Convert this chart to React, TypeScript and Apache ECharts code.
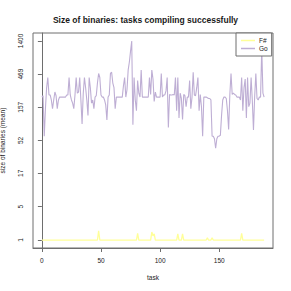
import React, { useEffect, useRef } from "react";
import * as echarts from "echarts";

const chartTitle = "Size of binaries: tasks compiling successfully";
const xName = "task";
const yName = "size of binaries (mean)";
const xTickValues = [0, 50, 100, 150];
const yTickLabels = [1, 5, 17, 52, 157, 469, 1400];
const seriesNames = ["F#", "Go"];
const seriesColors = ["#FFFF99", "#BEAED4"];

// mean binary size per task, F#
const fsharp = [
  1, 1, 1, 1, 1, 1, 1, 1, 1, 1, 1, 1, 1, 1, 1, 1, 1, 1, 1, 1,
  1, 1, 1, 1, 1, 1, 1, 1, 1, 1, 1, 1, 1, 1, 1, 1, 1, 1, 1, 1,
  1, 1, 1, 1, 1, 1, 1, 1, 1.7, 1, 1, 1, 1, 1, 1, 1, 1, 1, 1, 1,
  1, 1, 1, 1, 1, 1, 1, 1, 1, 1, 1, 1, 1, 1, 1, 1, 1, 1, 1, 1,
  1, 1.5, 1, 1, 1, 1, 1, 1, 1, 1, 1, 1, 1, 1.6, 1.3, 1.45, 1, 1, 1, 1,
  1, 1, 1, 1, 1, 1, 1, 1, 1, 1, 1, 1, 1, 1, 1, 1.45, 1, 1, 1, 1.45,
  1, 1, 1, 1, 1, 1, 1, 1, 1, 1, 1, 1, 1, 1, 1, 1, 1, 1, 1, 1,
  1.15, 1, 1, 1, 1.15, 1, 1, 1, 1, 1, 1, 1, 1, 1, 1, 1, 1, 1, 1, 1,
  1, 1, 1, 1, 1, 1, 1, 1, 1, 1.5, 1, 1, 1, 1, 1, 1, 1, 1, 1, 1,
  1, 1, 1, 1, 1, 1, 1, 1, 1,
];

// mean binary size per task, Go
const go = [
  220, 230, 60, 150, 300, 420, 236, 236, 200, 150, 200, 260, 230, 150, 200, 220, 220, 220, 220, 220,
  220, 236, 236, 420, 236, 200, 180, 150, 236, 420, 250, 260, 420, 200, 90, 250, 420, 300, 200, 120,
  420, 300, 180, 200, 150, 220, 230, 350, 480, 420, 236, 220, 220, 200, 170, 103, 220, 236, 480, 500,
  350, 300, 150, 220, 220, 220, 220, 220, 220, 320, 420, 220, 280, 540, 700, 1000, 1400, 88, 420, 200,
  140, 380, 250, 220, 538, 220, 220, 220, 220, 220, 220, 420, 240, 538, 400, 190, 260, 220, 220, 220,
  220, 480, 220, 236, 236, 270, 420, 80, 240, 236, 236, 240, 236, 420, 140, 420, 110, 250, 210, 105,
  240, 230, 160, 220, 220, 380, 150, 220, 500, 236, 230, 300, 420, 140, 240, 160, 60, 220, 220, 220,
  215, 210, 210, 200, 60, 60, 55, 40, 55, 60, 60, 62, 120, 200, 220, 220, 210, 140, 75, 240,
  480, 240, 250, 240, 236, 220, 220, 220, 200, 420, 140, 300, 400, 110, 420, 160, 180, 420, 200, 74,
  220, 480, 210, 200, 220, 220, 1100, 250, 220,
];

const FONT = "'Liberation Sans', Arial, Helvetica, sans-serif";

export default function App() {
  const ref = useRef<HTMLDivElement>(null);

  useEffect(() => {
    const chart = echarts.init(ref.current as HTMLDivElement, null, { renderer: "svg" });
    const tf = (v: number) => Math.log(v + 1);
    const allT = [...fsharp, ...go].map(tf);
    const lo = Math.min(...allT);
    const hi = Math.max(...allT);
    const ypad = 0.04 * (hi - lo);
    const n = go.length;
    const xlo = 0;
    const xhi = n - 1;
    const xpad = 0.04 * (xhi - xlo);
    const yTickValues = yTickLabels.map(tf);

    const mk = (arr: number[]) => arr.map((v, i) => [i, tf(v)]);

    chart.setOption({
      animation: false,
      backgroundColor: "#ffffff",
      title: {
        text: chartTitle,
        left: "center",
        top: 10,
        textStyle: { fontFamily: FONT, fontSize: 8.5, fontWeight: "bold", color: "#1a1a1a" },
      },
      grid: {
        left: 33,
        top: 33,
        width: 240,
        height: 215,
        containLabel: false,
        outerBoundsMode: "none",
        show: true,
        borderColor: "#6e6e6e",
        borderWidth: 1,
        backgroundColor: "transparent",
      },
      legend: {
        data: seriesNames,
        orient: "vertical",
        left: 236,
        top: 33,
        padding: [4, 4, 4, 5],
        itemGap: 1,
        itemWidth: 14,
        itemHeight: 1.5,
        icon: "rect",
        backgroundColor: "#ffffff",
        borderColor: "#6e6e6e",
        borderWidth: 1,
        borderRadius: 0,
        textStyle: { fontFamily: FONT, fontSize: 6.5, color: "#222", padding: [0, 0, 0, -1] },
      },
      xAxis: {
        type: "value",
        min: xlo - xpad,
        max: xhi + xpad,
        name: xName,
        nameLocation: "middle",
        nameGap: 26,
        nameTextStyle: { fontFamily: FONT, fontSize: 6.5, color: "#222" },
        axisLine: { show: true, lineStyle: { color: "#6e6e6e", width: 1 } },
        axisTick: { show: true, customValues: xTickValues, length: 4, inside: false, lineStyle: { color: "#6e6e6e" } },
        axisLabel: {
          customValues: xTickValues,
          margin: 9,
          fontFamily: FONT,
          fontSize: 6.5,
          color: "#222",
        },
        splitLine: { show: false },
      },
      yAxis: {
        type: "value",
        min: lo - ypad,
        max: hi + ypad,
        name: yName,
        nameLocation: "middle",
        nameGap: 27,
        nameTextStyle: { fontFamily: FONT, fontSize: 6.5, color: "#222" },
        axisLine: { show: true, lineStyle: { color: "#6e6e6e", width: 1 } },
        axisTick: { show: true, customValues: yTickValues, length: 4, inside: false, lineStyle: { color: "#6e6e6e" } },
        axisLabel: {
          customValues: yTickValues,
          rotate: 90,
          margin: 9,
          fontFamily: FONT,
          fontSize: 6.5,
          color: "#222",
          formatter: (v: number) => {
            const lab = yTickLabels.find((l) => Math.abs(tf(l) - v) < 1e-6);
            return lab === undefined ? "" : String(lab);
          },
        },
        splitLine: { show: false },
      },
      series: [
        {
          name: seriesNames[0],
          type: "line",
          data: mk(fsharp),
          showSymbol: false,
          symbol: "none",
          color: seriesColors[0],
          lineStyle: { color: seriesColors[0], width: 1.3 },
        },
        {
          name: seriesNames[1],
          type: "line",
          data: mk(go),
          showSymbol: false,
          symbol: "none",
          color: seriesColors[1],
          lineStyle: { color: seriesColors[1], width: 1.1 },
        },
      ],
    });
    return () => chart.dispose();
  }, []);

  return (
    <div
      ref={ref}
      style={{ position: "fixed", left: 0, top: 0, width: 291, height: 291, background: "#ffffff" }}
    />
  );
}
